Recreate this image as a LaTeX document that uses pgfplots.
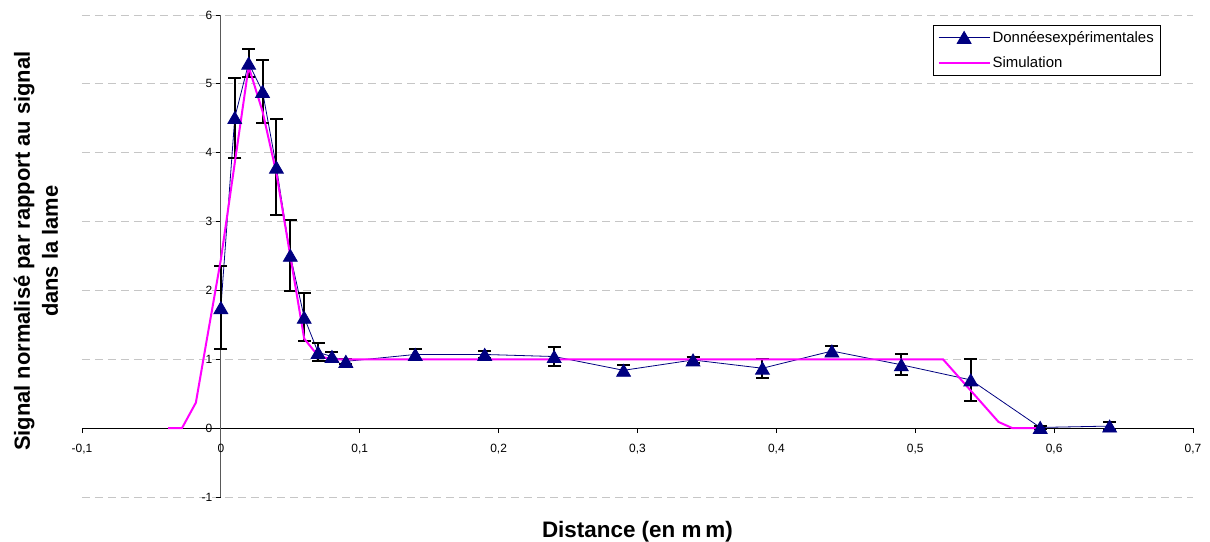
\documentclass[border=0pt]{standalone}
\usepackage{fontspec}
\setmainfont{Liberation Sans}
\usepackage{pgfplots}
\usepackage{pgfplotstable}
\pgfplotsset{compat=1.18}
\definecolor{navyb}{RGB}{0,0,128}
\definecolor{magen}{RGB}{255,0,255}

\pgfplotstableread{
x y e
0 1.75 0.60
0.01 4.51 0.58
0.02 5.30 0.20
0.03 4.89 0.46
0.04 3.79 0.70
0.05 2.51 0.52
0.06 1.61 0.35
0.07 1.10 0.13
0.08 1.04 0.06
0.09 0.97 0.04
0.14 1.07 0.08
0.19 1.07 0.05
0.24 1.04 0.14
0.29 0.84 0.07
0.34 0.99 0.05
0.39 0.87 0.14
0.44 1.12 0.07
0.49 0.92 0.15
0.54 0.70 0.31
0.59 0.01 0.02
0.64 0.03 0.06
}\expdata

\pgfplotstableread{
x y
-0.038 0
-0.028 0
-0.018 0.37
-0.01 1.30
0 2.45
0.01 3.85
0.02 5.25
0.03 4.60
0.04 3.70
0.05 2.50
0.06 1.30
0.07 1.05
0.08 1.00
0.52 1.00
0.56 0.09
0.57 0
0.59 0
}\simdata

\begin{document}
\begin{tikzpicture}
\useasboundingbox (-82bp,-45bp) rectangle (1128bp,497bp);
\begin{axis}[
  scale only axis,
  width=1111bp, height=482bp,
  xmin=-0.1, xmax=0.7, ymin=-1, ymax=6,
  axis lines=middle,
  axis line style={-},
  x axis line style={black, line width=1bp},
  y axis line style={black!65, line width=1bp},
  hide obscured x ticks=false,
  hide obscured y ticks=false,
  xtick={-0.1,0,0.1,0.2,0.3,0.4,0.5,0.6,0.7},
  ytick={-1,0,1,2,3,4,5,6},
  tick align=outside,
  major tick length=5bp,
  tick style={black, line width=0.8bp},
  ymajorgrids,
  grid style={gray!45, line width=0.8bp, dash pattern=on 8bp off 5bp},
  /pgf/number format/assume math mode=true,
  /pgf/number format/use comma,
  xticklabel style={yshift=-7bp, font=\fontsize{12}{14}\selectfont},
  yticklabel style={font=\fontsize{12}{14}\selectfont},
  xlabel={Distance (en m\hspace{4bp}m)},
  xlabel style={at={(axis description cs:0.5,-0.085)}, anchor=base, font=\bfseries\fontsize{22.5}{26}\selectfont},
  ylabel={Signal normalisé par rapport au signal\\dans la lame},
  ylabel style={at={(axis description cs:-0.0414,0.51)}, anchor=center, rotate=90, align=center, font=\bfseries\fontsize{22}{28}\selectfont},
  legend style={at={(axis description cs:0.9703,0.9793)}, anchor=north east, draw=black, fill=white, font=\fontsize{15}{18}\selectfont, row sep=9bp, inner sep=4bp, cells={anchor=west}},
  legend image code/.code={\draw[mark repeat=2,mark phase=2,#1] plot coordinates {(0bp,0bp) (25.5bp,0bp) (51bp,0bp)};},
]
\addplot[color=navyb, line width=0.8bp, mark=triangle*, mark size=8bp, mark options={fill=navyb, draw=navyb, yshift=-2bp},
  error bars/.cd, y dir=both, y explicit,
  error bar style={black, line width=2bp},
  error mark options={black, rotate=90, mark size=6.5bp, line width=2bp}]
  table[x=x, y=y, y error=e] {\expdata};
\addlegendentry{Donnéesexpérimentales}
\addplot[color=magen, line width=2bp, mark=none] table[x=x, y=y] {\simdata};
\addlegendentry{Simulation}
\end{axis}
\end{tikzpicture}
\end{document}
